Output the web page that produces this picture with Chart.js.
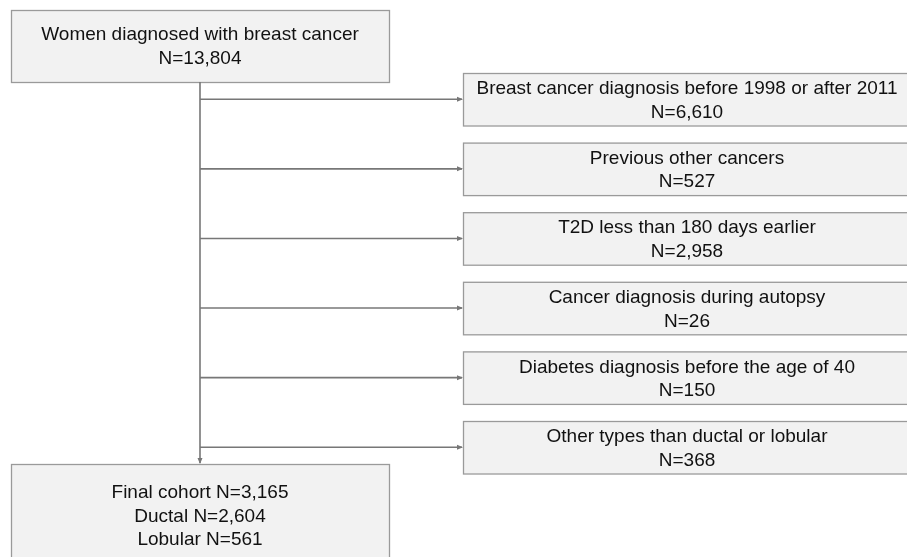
<!DOCTYPE html>
<html>
<head>
<meta charset="utf-8">
<script src="https://cdn.jsdelivr.net/npm/chart.js@4"></script>
<style>
html,body{margin:0;padding:0;background:#fff;overflow:hidden;}
#wrap{width:907px;height:557px;}
</style>
</head>
<body>
<div id="wrap"><canvas id="c" width="907" height="557"></canvas></div>
<script>
// ---- data ----
const startLabel = "Women diagnosed with breast cancer";
const startN = 13804;
const exclusionLabels = [
  "Breast cancer diagnosis before 1998 or after 2011",
  "Previous other cancers",
  "T2D less than 180 days earlier",
  "Cancer diagnosis during autopsy",
  "Diabetes diagnosis before the age of 40",
  "Other types than ductal or lobular"
];
const exclusionN = [6610, 527, 2958, 26, 150, 368];
const finalLabels = ["Final cohort", "Ductal", "Lobular"];
const finalN = [3165, 2604, 561];

// ---- layout (in scale units = px of the 907x557 frame) ----
const L = {
  trunkX: 200,
  topBox: {x0: 11, x1: 389, y0: 10, y1: 82},
  bottomBox: {x0: 11, x1: 389, y0: 464, y1: 575},
  exBox: {x0: 463, x1: 911, firstTop: 73, step: 69.6, h: 52.5},
  lineH: 23.5
};
const fmt = n => "N=" + n.toLocaleString("en-US");
const exTops = exclusionLabels.map((_, i) => L.exBox.firstTop + i * L.exBox.step);
const exMid = exTops.map(t => t + L.exBox.h / 2);

// connector datasets (drawn through the scales)
const connectorSets = [];
connectorSets.push({
  data: [{x: L.trunkX, y: L.topBox.y1}, {x: L.trunkX, y: L.bottomBox.y0 - 1}],
  arrow: 'down'
});
exMid.forEach(y => connectorSets.push({
  data: [{x: L.trunkX, y: y}, {x: L.exBox.x0 - 1, y: y}],
  arrow: 'right'
}));

const boxPlugin = {
  id: 'flowBoxes',
  beforeDatasetsDraw(chart) {
    const ctx = chart.ctx, xs = chart.scales.x, ys = chart.scales.y;
    const box = (b, lines) => {
      const x0 = xs.getPixelForValue(b.x0), x1 = xs.getPixelForValue(b.x1);
      const y0 = ys.getPixelForValue(b.y0), y1 = ys.getPixelForValue(b.y1);
      ctx.save();
      ctx.fillStyle = '#f2f2f2';
      ctx.fillRect(x0, y0, x1 - x0, y1 - y0);
      ctx.strokeStyle = '#9a9a9a';
      ctx.lineWidth = 1.3;
      ctx.strokeRect(x0 + 0.5, y0 + 0.5, x1 - x0, y1 - y0);
      ctx.restore();
    };
    box(L.topBox);
    box(L.bottomBox);
    exTops.forEach(t => box({x0: L.exBox.x0, x1: L.exBox.x1, y0: t, y1: t + L.exBox.h}));
  },
  afterDatasetsDraw(chart) {
    const ctx = chart.ctx, xs = chart.scales.x, ys = chart.scales.y;
    // arrowheads
    ctx.save();
    ctx.fillStyle = '#777';
    chart.data.datasets.forEach(ds => {
      const p = ds.data[1];
      const px = xs.getPixelForValue(p.x), py = ys.getPixelForValue(p.y);
      ctx.beginPath();
      if (ds.arrow === 'right') {
        ctx.moveTo(px + 1, py); ctx.lineTo(px - 5, py - 2.5); ctx.lineTo(px - 5, py + 2.5);
      } else {
        ctx.moveTo(px, py + 1); ctx.lineTo(px - 2.5, py - 5); ctx.lineTo(px + 2.5, py - 5);
      }
      ctx.closePath(); ctx.fill();
    });
    ctx.restore();
    // texts
    ctx.save();
    ctx.fillStyle = '#111';
    ctx.font = '19px "Liberation Sans", Arial, sans-serif';
    ctx.textAlign = 'center';
    ctx.textBaseline = 'middle';
    const block = (cx, cy, lines) => {
      const n = lines.length;
      lines.forEach((s, i) => {
        const y = cy + (i - (n - 1) / 2) * L.lineH;
        ctx.fillText(s, xs.getPixelForValue(cx), ys.getPixelForValue(y));
      });
    };
    block((L.topBox.x0 + L.topBox.x1) / 2, 47, [startLabel, fmt(startN)]);
    exclusionLabels.forEach((lab, i) => {
      block((L.exBox.x0 + L.exBox.x1) / 2, exMid[i] + 1.5, [lab, fmt(exclusionN[i])]);
    });
    block((L.bottomBox.x0 + L.bottomBox.x1) / 2, 516.5,
      finalLabels.map((lab, i) => lab + " " + fmt(finalN[i])));
    ctx.restore();
  }
};

new Chart(document.getElementById('c'), {
  type: 'scatter',
  data: {
    datasets: connectorSets.map(s => ({
      data: s.data,
      arrow: s.arrow,
      showLine: true,
      borderColor: '#777',
      borderWidth: 1.6,
      pointRadius: 0,
      pointHoverRadius: 0,
      fill: false
    }))
  },
  options: {
    responsive: false,
    animation: false,
    devicePixelRatio: 1,
    layout: {padding: 0},
    plugins: {legend: {display: false}, tooltip: {enabled: false}, title: {display: false}},
    events: [],
    scales: {
      x: {type: 'linear', min: 0, max: 907, display: false},
      y: {type: 'linear', min: 0, max: 557, reverse: true, display: false}
    }
  },
  plugins: [boxPlugin]
});
</script>
</body>
</html>
